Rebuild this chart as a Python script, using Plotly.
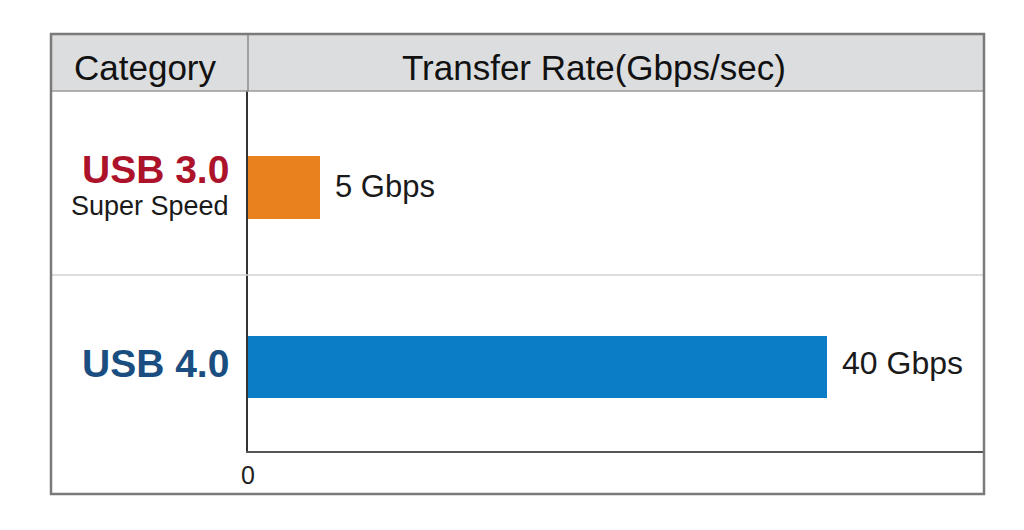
import plotly.graph_objects as go

categories = ["USB 3.0", "USB 4.0"]
subtitles = ["Super Speed", ""]
rates = [5, 40]
value_labels = ["5 Gbps", "40 Gbps"]
bar_colors = ["#E9811C", "#0B7DC7"]
cat_colors = ["#AC1229", "#1B4E80"]
header_cat = "Category"
header_rate = "Transfer Rate(Gbps/sec)"
x_ticks = [0]

FONT = "Liberation Sans, Arial, sans-serif"
OFF = 8  # default page body margin
W, H = 1024 - OFF, 530 - OFF
L, R, T, B = 248 - OFF, 40, 91 - OFF, 79
pw, ph = W - L - R, H - T - B

def px(x):
    return (x - OFF - L) / pw

def py(y):
    return (H - B - (y - OFF)) / ph

fig = go.Figure()
fig.add_trace(go.Bar(
    y=categories, x=rates, orientation="h",
    marker=dict(color=bar_colors, line=dict(width=0)),
    width=0.35, hoverinfo="skip", showlegend=False,
))

ann = []
# header texts
for txt, cx in [(header_cat, 145), (header_rate, 594)]:
    ann.append(dict(text=txt, x=px(cx), y=py(67), xref="paper", yref="paper",
                    xanchor="center", yanchor="middle", showarrow=False,
                    font=dict(family=FONT, size=35, color="#111")))
# category labels
for i, c in enumerate(categories):
    has_sub = bool(subtitles[i])
    ann.append(dict(text="<b>%s</b>" % c, x=px(231), y=c, xref="paper", yref="y",
                    xanchor="right", yanchor="middle", showarrow=False,
                    yshift=18 if has_sub else 4,
                    font=dict(family=FONT, size=39, color=cat_colors[i])))
    if has_sub:
        ann.append(dict(text=subtitles[i], x=px(231), y=c, xref="paper", yref="y",
                        xanchor="right", yanchor="middle", showarrow=False, yshift=-18,
                        font=dict(family=FONT, size=27, color="#1a1a1a")))
# value labels
for i, c in enumerate(categories):
    ann.append(dict(text=value_labels[i], x=rates[i], y=c, xref="x", yref="y",
                    xanchor="left", yanchor="middle", showarrow=False, xshift=13,
                    yshift=1 if i == 0 else 4,
                    font=dict(family=FONT, size=31 if i == 0 else 32, color="#1a1a1a")))

x_left = px(51)
shapes = [
    dict(type="rect", xref="paper", yref="paper", x0=x_left, x1=1, y0=1, y1=py(34),
         fillcolor="#DCDDDE", line=dict(width=0), layer="below"),
    dict(type="line", xref="paper", yref="paper", x0=x_left, x1=1, y0=1, y1=1,
         line=dict(color="#9a9a9a", width=1.5)),
    dict(type="line", xref="paper", yref="paper", x0=x_left, x1=1, y0=py(275), y1=py(275),
         line=dict(color="#d2d2d2", width=1.5)),
    dict(type="line", xref="paper", yref="paper", x0=0, x1=0, y0=1, y1=py(34),
         line=dict(color="#8a8a8a", width=1.5)),
    dict(type="rect", xref="paper", yref="paper", x0=x_left, x1=1, y0=py(494), y1=py(34),
         line=dict(color="#7a7a7a", width=2.5), fillcolor="rgba(0,0,0,0)"),
]

# y range so that category centres land on measured pixel rows
unit = 179.5
c0 = 187.5 - OFF
y_top = 0 - (c0 - T) / unit
y_bot = 0 + (H - B - c0) / unit

fig.update_layout(
    width=W, height=H,
    margin=dict(l=L, r=R, t=T, b=B, pad=0),
    paper_bgcolor="white", plot_bgcolor="white",
    annotations=ann, shapes=shapes,
    xaxis=dict(range=[0, 50.85], tickvals=x_ticks, ticktext=[str(v) for v in x_ticks],
               showgrid=False, zeroline=False, showline=True, linecolor="#555", linewidth=2,
               ticks="outside", ticklen=1, tickcolor="rgba(0,0,0,0)",
               tickfont=dict(family=FONT, size=25, color="#222"), fixedrange=True),
    yaxis=dict(type="category", categoryarray=categories, range=[y_bot, y_top],
               showticklabels=False, showgrid=False, zeroline=False, showline=True,
               linecolor="#333", linewidth=2, ticks="", fixedrange=True),
    bargap=0,
)

fig.write_html("out.html", config={"displayModeBar": False})
